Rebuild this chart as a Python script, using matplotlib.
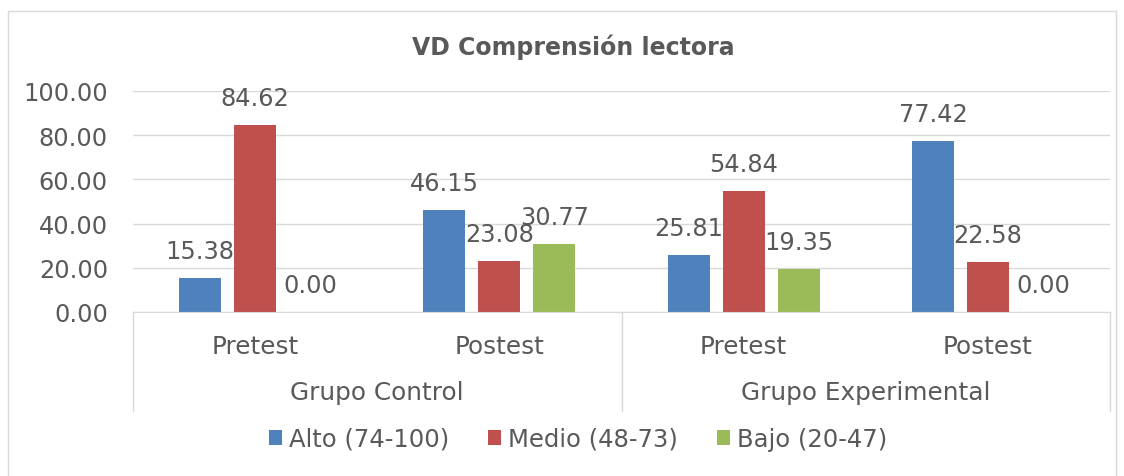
import numpy as np
import matplotlib.pyplot as plt
from matplotlib.patches import Rectangle

plt.rcParams['font.family'] = ['DejaVu Sans']

# data
groups = ['Grupo Control', 'Grupo Experimental']
tests = ['Pretest', 'Postest', 'Pretest', 'Postest']
series = ['Alto (74-100)', 'Medio (48-73)', 'Bajo (20-47)']
alto = [15.38, 46.15, 25.81, 77.42]
medio = [84.62, 23.08, 54.84, 22.58]
bajo = [0.00, 30.77, 19.35, 0.00]
colors = ['#4F81BD', '#C0504D', '#9BBB59']
txt = '#595959'
fs = 17.3

W, H = 1124, 477
fig = plt.figure(figsize=(W / 100, H / 100), dpi=100)
fig.patches.append(Rectangle((8 / W, -0.01), (1116 - 8) / W, 1 - 12 / H + 0.01,
                             transform=fig.transFigure, fill=False,
                             edgecolor='#D9D9D9', lw=1))

left, right, top, bottom = 133, 1110, 92, 313
ax = fig.add_axes([left / W, 1 - bottom / H, (right - left) / W, (bottom - top) / H])

x = np.arange(len(tests))
offsets = [-0.225, 0, 0.225]
for vals, name, col, off in zip([alto, medio, bajo], series, colors, offsets):
    bars = ax.bar(x + off, vals, width=0.172, color=col, label=name)
    ax.bar_label(bars, fmt='%.2f', padding=11, fontsize=fs, color=txt)

ax.set_xlim(-0.5, len(tests) - 0.5)
ax.set_ylim(0, 100)
ax.set_yticks(np.arange(0, 101, 20))
ax.set_yticklabels(['%.2f' % v for v in np.arange(0, 101, 20)])
ax.tick_params(axis='y', length=0, pad=18, labelsize=fs, labelcolor=txt)
ax.set_xticks([])
ax.grid(axis='y', color='#D9D9D9', lw=1)
ax.set_axisbelow(True)
for s in ['top', 'right', 'left']:
    ax.spines[s].set_visible(False)
ax.spines['bottom'].set_color('#D9D9D9')

# two-level category axis
trans = ax.get_xaxis_transform()
depth = -(412 - bottom) / (bottom - top)
for xi in [-0.5, 1.5, 3.5]:
    ax.plot([xi, xi], [0, depth], transform=trans, color='#D9D9D9', lw=1, clip_on=False)
for xi, t in zip(x, tests):
    ax.text(xi, -(347 - bottom) / (bottom - top), t, transform=trans,
            ha='center', va='center', fontsize=17.8, color=txt)
for gi, g in enumerate(groups):
    ax.text(gi * 2 + 0.5, -(393 - bottom) / (bottom - top), g, transform=trans,
            ha='center', va='center', fontsize=17.8, color=txt)

fig.text(573 / W, 1 - 47 / H, 'VD Comprensión lectora', ha='center', va='center',
         fontsize=17, fontweight='bold', color=txt)

fig.legend(loc='center', bbox_to_anchor=(578 / W, 1 - 440 / H), ncol=3, frameon=False,
           fontsize=17.5, labelcolor=txt, handlelength=0.53, handleheight=0.53,
           handletextpad=0.3, columnspacing=1.6)

fig.savefig('out.png', dpi=100)
